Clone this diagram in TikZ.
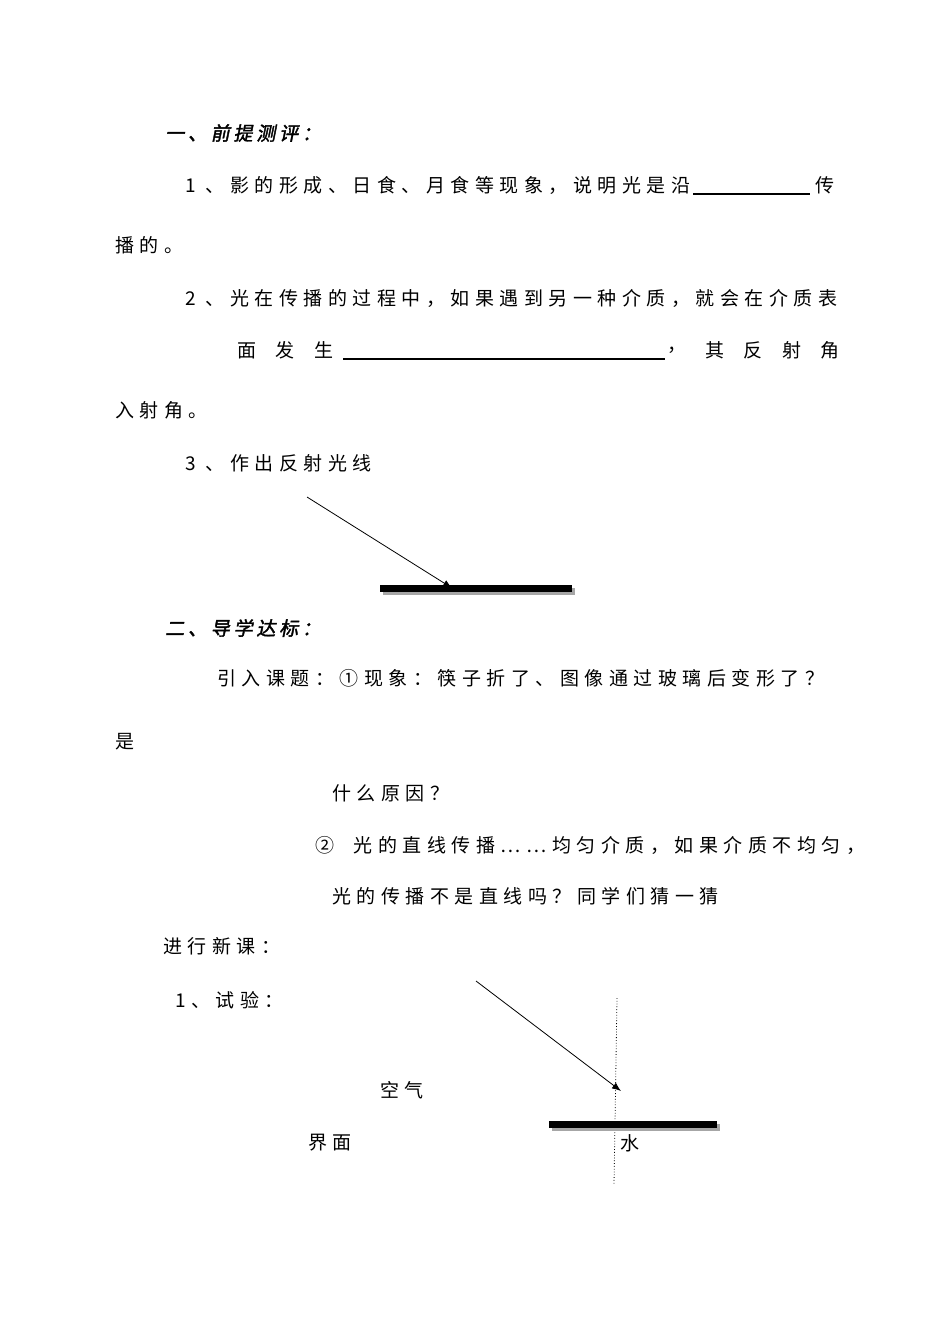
\documentclass[tikz,border=0pt]{standalone}
\usepackage{fontspec}
\newfontfamily\cjk[LetterSpace=29]{Noto Sans CJK SC}
\newfontfamily\cjkhead[FakeBold=2,FakeSlant=0.2,LetterSpace=20]{Noto Sans CJK SC}
\usetikzlibrary{arrows.meta}
\tikzset{
  line/.style={anchor=west, inner sep=0pt, font=\cjk\fontsize{19}{19}\selectfont},
  head/.style={anchor=west, inner sep=0pt, font=\cjkhead\fontsize{19}{19}\selectfont},
  blank/.style={line width=1.2pt},
  ray/.style={line width=0.8pt, -{Latex[length=9pt,width=7pt]}},
}
\newcommand{\mirror}[3]{%
  \fill[gray!70] (#1+3,#3-1) rectangle (#2+3,#3+6);
  \fill[black] (#1,#3-4) rectangle (#2,#3+3);}
\begin{document}
\begin{tikzpicture}[x=1pt, y=-1pt]
    \useasboundingbox (0,0) rectangle (950,1342);

    % part one
    \node [head] (h1) at (165,133) {一、前提测评：};
    \node [line] (q1) at (185,185) {1 、影的形成、日食、月食等现象，说明光是沿};
    \draw [blank] (693,194) -- (810,194);
    \node [line] (q1b) at (815,185) {传};
    \node [line] (q1c) at (115,245) {播的。};
    \node [line] (q2) at (185,298) {2 、光在传播的过程中，如果遇到另一种介质，就会在介质表};
    \node [line] (q2b) at (237,350) {面\ \ 发\ \ 生};
    \draw [blank] (343,359) -- (665,359);
    \node [line] (q2c) at (667,350) {，};
    \node [line] (q2d) at (705,350) {其\ \ 反\ \ 射\ \ 角};
    \node [line] (q2e) at (115,410) {入射角。};
    \node [line] (q3) at (185,463) {3 、作出反射光线};

    % mirror 1
    \mirror{380}{572}{589}
    \coordinate (src1) at (307,497);
    \coordinate (hit1) at (452,588);
    \draw [ray] (src1) -- (hit1);

    % part two
    \node [head] (h2) at (165,628) {二、导学达标：};
    \node [line] (p1) at (217,678) {引入课题：①现象：筷子折了、图像通过玻璃后变形了？};
    \node [line] (p1b) at (115,742) {是};
    \node [line] (p1c) at (332,793) {什么原因？};
    \node [line] (p2) at (315,845) {②\ \ 光的直线传播……均匀介质，如果介质不均匀，};
    \node [line] (p2b) at (332,896) {光的传播不是直线吗？同学们猜一猜};
    \node [line] (p3) at (163,946) {进行新课：};
    \node [line] (p4) at (175,1000) {1、试验：};

    % mirror 2
    \coordinate (ntop) at (617,998);
    \coordinate (nbot) at (614,1185);
    \draw [dotted, line width=0.8pt] (ntop) -- (nbot);
    \mirror{549}{717}{1125}
    \coordinate (src2) at (476,981);
    \coordinate (hit2) at (621,1091);
    \draw [ray] (src2) -- (hit2);
    \node [line] (air) at (380,1090) {空气};
    \node [line] (face) at (308,1143) {界面};
    \node [line] (water) at (620,1143) {水};

\end{tikzpicture}
\end{document}
